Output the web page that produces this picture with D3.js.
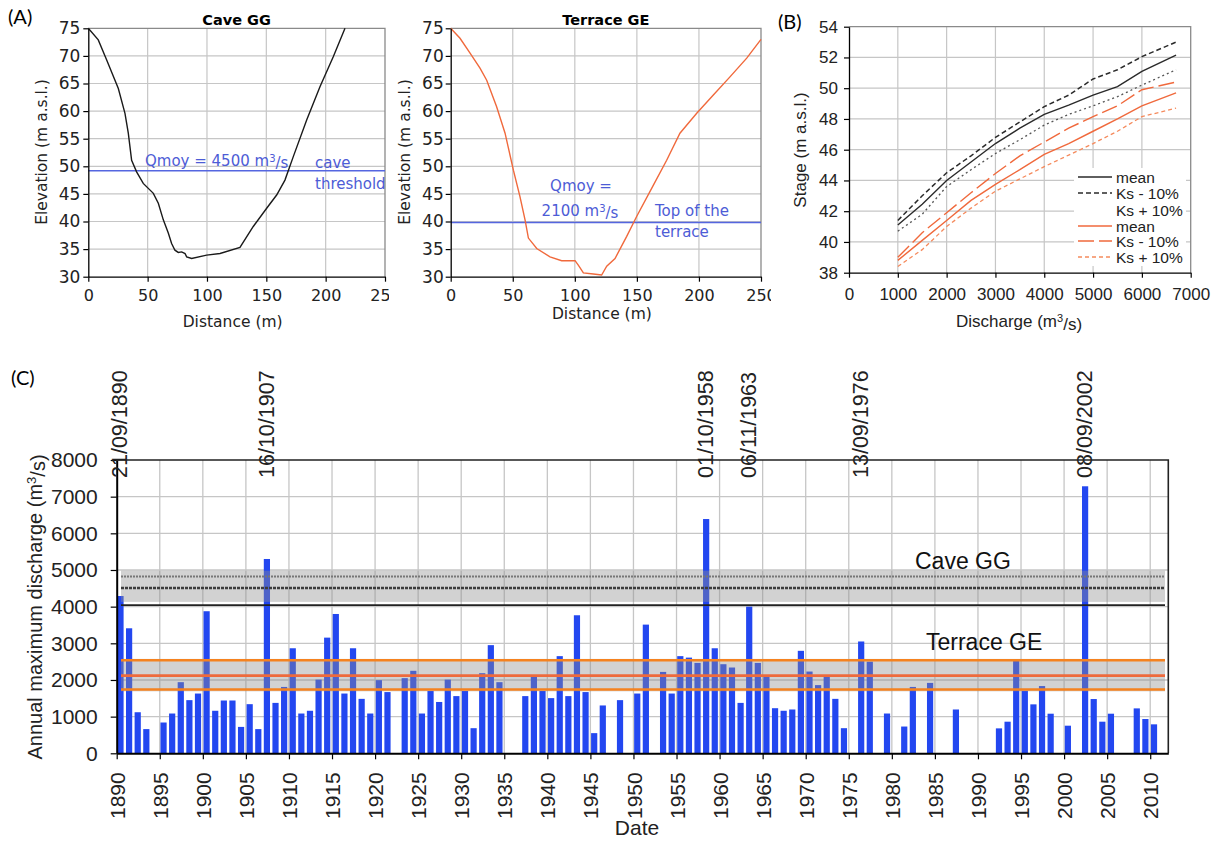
<!DOCTYPE html>
<html><head><meta charset="utf-8">
<script src="https://cdn.jsdelivr.net/npm/d3@7"></script>
<style>
body{margin:0;background:#fff;}
svg{display:block;}
</style></head><body>
<svg id="chart" width="1221" height="841"></svg>
<script>
// ---------- DATA ----------
// Panel A: cross-section profiles (distance m, elevation m a.s.l.)
const caveDist = [0, 8.4, 15.4, 25.3, 30.9, 33.7, 36.5, 40.7, 46.3, 54.8, 59, 63.2, 67.4, 70.2, 73, 75.8, 78.7, 81.5, 82.9, 87.1, 99.7, 111, 127.8, 139, 150.3, 158.7, 165.7, 172.8, 184, 195.2, 206.5, 216.3];
const caveElev = [75, 72.9, 69.3, 64.1, 59.6, 56, 51.1, 49, 46.9, 45.1, 43.3, 40.3, 37.9, 36, 34.8, 34.4, 34.5, 34.2, 33.6, 33.3, 33.9, 34.2, 35.3, 39.1, 42.4, 44.8, 47.5, 51.8, 58.4, 64.4, 69.9, 75];
const terrDist = [0, 7.5, 15.6, 23.6, 29, 37, 43.8, 50.5, 55.8, 59.9, 62.6, 69.3, 80, 89.4, 100.2, 102.8, 106.9, 114.9, 121.6, 125.7, 132.4, 141.8, 149.8, 163.3, 174, 184.7, 198.2, 211.6, 225, 238.5, 250];
const terrElev = [75, 73.2, 70.5, 67.8, 65.6, 60.8, 56, 49.3, 44.5, 40.3, 37, 35.1, 33.6, 32.9, 32.9, 32.1, 30.7, 30.5, 30.3, 31.9, 33.3, 37.3, 40.9, 46.6, 51.1, 56, 59.6, 62.9, 66.2, 69.6, 73];
const caveThreshold = 49.2;
const terraceThreshold = 39.8;
const profileXTicks = [0, 50, 100, 150, 200, 250];
const profileYTicks = [30, 35, 40, 45, 50, 55, 60, 65, 70, 75];

// Panel B: stage-discharge curves
const discharge = [1000, 1500, 2000, 2500, 3000, 3500, 4000, 4500, 5000, 5500, 6000, 6700];
const caveMean   = [41.1, 42.45, 44.0, 45.2, 46.4, 47.4, 48.3, 48.9, 49.55, 50.1, 51.1, 52.15];
const caveKsMinus = [41.4, 43.0, 44.5, 45.6, 46.8, 47.8, 48.8, 49.55, 50.6, 51.2, 52.05, 53.0];
const caveKsPlus  = [40.7, 41.8, 43.6, 44.7, 45.75, 46.65, 47.6, 48.3, 48.85, 49.45, 50.2, 51.2];
const terrMean    = [38.8, 40.1, 41.4, 42.7, 43.75, 44.7, 45.7, 46.4, 47.2, 48.0, 48.85, 49.7];
const terrKsMinus = [39.0, 40.6, 41.9, 43.2, 44.45, 45.6, 46.5, 47.4, 48.15, 48.85, 49.9, 50.4];
const terrKsPlus  = [38.4, 39.5, 41.0, 42.2, 43.3, 44.1, 44.9, 45.65, 46.4, 47.2, 48.15, 48.7];
const legendLabels = ["mean", "Ks - 10%", "Ks + 10%", "mean", "Ks - 10%", "Ks + 10%"];

// Panel C: annual maximum discharge (m3/s)
const years = [1890,1891,1892,1893,1895,1896,1897,1898,1899,1900,1901,1902,1903,1904,1905,1906,1907,1908,1909,1910,
  1911,1912,1913,1914,1915,1916,1917,1918,1919,1920,1921,1923,1924,1925,1926,1927,1928,1929,1930,1931,1932,1933,1934,
  1937,1938,1939,1940,1941,1942,1943,1944,1945,1946,1948,1950,1951,1953,1954,1955,1956,1957,1958,1959,1960,1961,1962,
  1963,1964,1965,1966,1967,1968,1969,1970,1971,1972,1973,1974,1976,1977,1979,1981,1982,1984,1987,1992,1993,1994,1995,
  1996,1997,1998,2000,2002,2003,2004,2005,2008,2009,2010];
const peaks = [4290,3410,1120,660,840,1085,1940,1450,1630,3875,1160,1440,1440,720,1340,660,5300,1375,1810,2865,
  1085,1160,2010,3155,3800,1630,2865,1485,1085,1995,1670,2050,2250,1085,1700,1400,2010,1560,1700,685,2185,2950,1940,
  1560,2105,1700,1505,2650,1560,3765,1670,550,1305,1450,1630,3510,2220,1630,2650,2610,2465,6390,2865,2430,2340,1375,
  4000,2465,2085,1230,1160,1195,2795,2230,1860,2120,1485,685,3050,2500,1085,730,1810,1920,1195,680,862,2520,1707,
  1335,1834,1080,753,7283,1480,862,1080,1225,935,790];
const eventYears = [1890, 1907, 1958, 1963, 1976, 2002];
const eventLabels = ["21/09/1890", "16/10/1907", "01/10/1958", "06/11/1963", "13/09/1976", "08/09/2002"];
const caveBand = [4130, 4980];
const caveLevels = [4820, 4510, 4040];
const terraceBand = [1690, 2575];
const terraceLevels = [2540, 2120, 1740];

// ---------- DRAW ----------
const svg = d3.select("#chart");
const defs = svg.append("defs");
function clip(id, x, y, w, h) {
  defs.append("clipPath").attr("id", id).append("rect")
    .attr("x", x).attr("y", y).attr("width", w).attr("height", h);
}
clip("clipA1", 0, 0, 389, 340);
clip("clipA2", 389, 0, 382, 340);
clip("clipB", 771, 0, 450, 340);

const GRID = "#c6c6c6";
const BLUE_T = "#4d5cd6";
const fmt = d3.format("d");

function styleAxis(g, font, size) {
  g.select(".domain").attr("stroke", "#000").attr("stroke-width", 1.3);
  g.selectAll(".tick line").attr("stroke", "#000").attr("stroke-width", 1.2);
  g.selectAll("text").attr("font-family", font).attr("font-size", size).attr("fill", "#222");
}

// ---- Panel A ----
function profilePanel(o) {
  const g = svg.append("g").attr("clip-path", `url(#${o.clip})`);
  const x = d3.scaleLinear().domain([0, 250]).range(o.xr);
  const y = d3.scaleLinear().domain([30, 75]).range([276.7, 28.3]);
  g.selectAll(null).data(profileXTicks.slice(1, -1)).enter().append("line")
    .attr("x1", d => x(d)).attr("x2", d => x(d)).attr("y1", y(75)).attr("y2", y(30))
    .attr("stroke", GRID).attr("stroke-width", 1.2);
  g.selectAll(null).data(profileYTicks.slice(1, -1)).enter().append("line")
    .attr("x1", x(0)).attr("x2", x(250)).attr("y1", d => y(d)).attr("y2", d => y(d))
    .attr("stroke", GRID).attr("stroke-width", 1.2);
  g.append("path").attr("d", `M${x(0)},${y(75)}H${x(250)}V${y(30)}`)
    .attr("fill", "none").attr("stroke", "#8a8a8a").attr("stroke-width", 1.3);
  g.append("line").attr("x1", x(0)).attr("x2", x(250))
    .attr("y1", y(o.threshold)).attr("y2", y(o.threshold))
    .attr("stroke", "#5566e0").attr("stroke-width", 1.5);
  g.append("path").datum(d3.zip(o.dist, o.elev))
    .attr("d", d3.line().x(d => x(d[0])).y(d => y(d[1])))
    .attr("fill", "none").attr("stroke", o.color).attr("stroke-width", 1.4);
  const ax = g.append("g").attr("transform", `translate(0,${y(30)})`)
    .call(d3.axisBottom(x).tickValues(profileXTicks).tickFormat(fmt).tickSize(5).tickSizeOuter(0).tickPadding(8));
  styleAxis(ax, "DejaVu Sans", 16);
  const ay = g.append("g").attr("transform", `translate(${x(0)},0)`)
    .call(d3.axisLeft(y).tickValues(profileYTicks).tickFormat(fmt).tickSize(5).tickSizeOuter(0).tickPadding(o.ypad));
  styleAxis(ay, "DejaVu Sans", 17);
  g.append("text").attr("x", (o.xr[0] + o.xr[1]) / 2).attr("y", 25).attr("text-anchor", "middle")
    .attr("font-family", "DejaVu Sans").attr("font-weight", "bold").attr("font-size", 14.5).text(o.title);
  g.append("text").attr("x", (o.xr[0] + o.xr[1]) / 2 - 4).attr("y", o.xtitleY).attr("text-anchor", "middle")
    .attr("font-family", "DejaVu Sans").attr("font-size", 15.5).attr("fill", "#222").text("Distance (m)");
  g.append("text").attr("transform", `translate(${o.ytitleX},152) rotate(-90)`).attr("text-anchor", "middle")
    .attr("font-family", "DejaVu Sans").attr("font-size", 15.5).attr("fill", "#222").text("Elevation (m a.s.l.)");
  return g;
}

const gA1 = profilePanel({clip: "clipA1", xr: [88.3, 385], dist: caveDist, elev: caveElev, color: "#1a1a1a",
  threshold: caveThreshold, title: "Cave GG", xtitleY: 327, ytitleX: 47, ypad: 3});
const gA2 = profilePanel({clip: "clipA2", xr: [450.7, 761], dist: terrDist, elev: terrElev, color: "#f0693c",
  threshold: terraceThreshold, title: "Terrace GE", xtitleY: 319, ytitleX: 410, ypad: 2});

function blueText(g, x, y, anchor, parts) {
  const t = g.append("text").attr("x", x).attr("y", y).attr("text-anchor", anchor)
    .attr("font-family", "DejaVu Sans").attr("font-size", 15).attr("fill", BLUE_T);
  parts.forEach(p => {
    if (p.sup) t.append("tspan").attr("dy", "-0.45em").attr("font-size", 10).text(p.sup);
    else t.append("tspan").attr("dy", p.after ? "0.45em" : 0).text(p.t);
  });
}
blueText(gA1, 145, 166, "start", [{t: "Qmoy = 4500 m"}, {sup: "3"}, {t: "/s", after: true}]);
blueText(gA1, 315, 168, "start", [{t: "cave"}]);
blueText(gA1, 315, 189, "start", [{t: "threshold"}]);
blueText(gA2, 581, 191, "middle", [{t: "Qmoy ="}]);
blueText(gA2, 580, 216, "middle", [{t: "2100 m"}, {sup: "3"}, {t: "/s", after: true}]);
blueText(gA2, 655, 216, "start", [{t: "Top of the"}]);
blueText(gA2, 655, 237, "start", [{t: "terrace"}]);

// ---- Panel B ----
{
  const g = svg.append("g").attr("clip-path", "url(#clipB)");
  const x = d3.scaleLinear().domain([0, 7000]).range([849, 1190.7]);
  const y = d3.scaleLinear().domain([38, 54]).range([272.7, 26.7]);
  g.selectAll(null).data(d3.range(1000, 7000, 1000)).enter().append("line")
    .attr("x1", d => x(d)).attr("x2", d => x(d)).attr("y1", y(54)).attr("y2", y(38))
    .attr("stroke", GRID).attr("stroke-width", 1.2);
  g.selectAll(null).data(d3.range(40, 54, 2)).enter().append("line")
    .attr("x1", x(0)).attr("x2", x(7000)).attr("y1", d => y(d)).attr("y2", d => y(d))
    .attr("stroke", GRID).attr("stroke-width", 1.2);
  g.append("path").attr("d", `M${x(0)},${y(54)}H${x(7000)}V${y(38)}`)
    .attr("fill", "none").attr("stroke", "#8a8a8a").attr("stroke-width", 1.3);
  const series = [
    {v: caveMean, c: "#2a2a2a", dash: null, w: 1.4},
    {v: caveKsMinus, c: "#2a2a2a", dash: "5,3", w: 1.5},
    {v: caveKsPlus, c: "#555", dash: "2,3", w: 1.3},
    {v: terrMean, c: "#f0693c", dash: null, w: 1.4},
    {v: terrKsMinus, c: "#f0693c", dash: "16,5", w: 1.4},
    {v: terrKsPlus, c: "#f58a5c", dash: "4,3", w: 1.3}
  ];
  const line = d3.line().x(d => x(d[0])).y(d => y(d[1]));
  series.forEach(s => {
    g.append("path").datum(d3.zip(discharge, s.v)).attr("d", line)
      .attr("fill", "none").attr("stroke", s.c).attr("stroke-width", s.w)
      .attr("stroke-dasharray", s.dash);
  });
  // legend
  g.append("rect").attr("x", 1074).attr("y", 168).attr("width", 112).attr("height", 98).attr("fill", "#fff");
  const rowsY = [177, 193, 210, 226, 241, 257];
  series.forEach((s, i) => {
    if (i !== 2) g.append("line").attr("x1", 1078).attr("x2", 1112).attr("y1", rowsY[i]).attr("y2", rowsY[i])
      .attr("stroke", s.c).attr("stroke-width", s.w).attr("stroke-dasharray", s.dash);
    g.append("text").attr("x", 1116).attr("y", rowsY[i]).attr("dy", "0.36em")
      .attr("font-family", "Liberation Sans").attr("font-size", 15.5).attr("fill", "#222").text(legendLabels[i]);
  });
  const ax = g.append("g").attr("transform", `translate(0,${y(38)})`)
    .call(d3.axisBottom(x).tickValues(d3.range(0, 7001, 1000)).tickFormat(fmt).tickSize(5).tickSizeOuter(0).tickPadding(10));
  styleAxis(ax, "Liberation Sans", 17);
  const ay = g.append("g").attr("transform", `translate(${x(0)},0)`)
    .call(d3.axisLeft(y).tickValues(d3.range(38, 55, 2)).tickFormat(fmt).tickSize(5).tickSizeOuter(0).tickPadding(6));
  styleAxis(ay, "Liberation Sans", 17);
  const xt = g.append("text").attr("x", 1019).attr("y", 327).attr("text-anchor", "middle")
    .attr("font-family", "Liberation Sans").attr("font-size", 17).attr("fill", "#222");
  xt.append("tspan").text("Discharge (m");
  xt.append("tspan").attr("dy", "-0.45em").attr("font-size", 11).text("3");
  xt.append("tspan").attr("dy", "0.45em").text("/s)");
  g.append("text").attr("transform", "translate(806,150) rotate(-90)").attr("text-anchor", "middle")
    .attr("font-family", "Liberation Sans").attr("font-size", 17).attr("fill", "#222").text("Stage (m a.s.l.)");
}

// ---- Panel C ----
{
  const g = svg.append("g");
  const x = d3.scaleLinear().domain([1890, 2012.1]).range([116.7, 1168.3]);
  const y = d3.scaleLinear().domain([0, 8000]).range([753.3, 460]);
  const x0 = x(1890), x1 = x(2012.1);
  g.selectAll(null).data(d3.range(1895, 2011, 5)).enter().append("line")
    .attr("x1", d => x(d)).attr("x2", d => x(d)).attr("y1", y(8000)).attr("y2", y(0))
    .attr("stroke", GRID).attr("stroke-width", 1.3);
  g.selectAll(null).data(d3.range(1000, 8000, 1000)).enter().append("line")
    .attr("x1", x0).attr("x2", x1).attr("y1", d => y(d)).attr("y2", d => y(d))
    .attr("stroke", GRID).attr("stroke-width", 1.3);
  const bw = x(1890.72) - x(1890);
  g.selectAll(null).data(d3.zip(years, peaks)).enter().append("rect")
    .attr("x", d => x(d[0] + 0.08)).attr("width", bw)
    .attr("y", d => y(d[1])).attr("height", d => y(0) - y(d[1]))
    .attr("fill", "#2347f0");
  // bands
  const bx0 = 121, bx1 = 1165;
  g.append("rect").attr("x", bx0).attr("width", bx1 - bx0)
    .attr("y", y(caveBand[1])).attr("height", y(caveBand[0]) - y(caveBand[1]))
    .attr("fill", "#8e8e8e").attr("opacity", 0.4);
  g.append("rect").attr("x", bx0).attr("width", bx1 - bx0)
    .attr("y", y(terraceBand[1])).attr("height", y(terraceBand[0]) - y(terraceBand[1]))
    .attr("fill", "#8e8e8e").attr("opacity", 0.4);
  const caveStyles = [{c: "#777", w: 2, d: "2,1"}, {c: "#3c3c3c", w: 2.5, d: "3,1"}, {c: "#222", w: 1.8, d: null}];
  caveLevels.forEach((v, i) => g.append("line").attr("x1", bx0).attr("x2", bx1).attr("y1", y(v)).attr("y2", y(v))
    .attr("stroke", caveStyles[i].c).attr("stroke-width", caveStyles[i].w).attr("stroke-dasharray", caveStyles[i].d));
  const terrColors = ["#f5821f", "#ee6a3c", "#f5821f"];
  terraceLevels.forEach((v, i) => g.append("line").attr("x1", bx0).attr("x2", bx1).attr("y1", y(v)).attr("y2", y(v))
    .attr("stroke", terrColors[i]).attr("stroke-width", 2.6));
  // frame
  g.append("path").attr("d", `M${x0},${y(8000)}H${x1}V${y(0)}`).attr("fill", "none")
    .attr("stroke", "#222").attr("stroke-width", 1.6);
  // axes
  const ay = g.append("g").attr("transform", `translate(${x0},0)`)
    .call(d3.axisLeft(y).tickValues(d3.range(0, 8001, 1000)).tickFormat(fmt).tickSize(6).tickSizeOuter(0).tickPadding(13));
  styleAxis(ay, "Liberation Sans", 21);
  ay.select(".domain").attr("stroke-width", 2);
  const ax = g.append("g").attr("transform", `translate(0,${y(0)})`)
    .call(d3.axisBottom(x).tickValues(d3.range(1890, 2011, 5)).tickFormat(fmt).tickSize(6).tickSizeOuter(0));
  styleAxis(ax, "Liberation Sans", 21);
  ax.select(".domain").attr("stroke-width", 2);
  ax.selectAll("text").attr("transform", "rotate(-90)").attr("text-anchor", "end")
    .attr("x", -19).attr("y", 0).attr("dy", "0.36em");
  // event date labels
  g.selectAll(null).data(d3.zip(eventYears, eventLabels)).enter().append("text")
    .attr("transform", d => `translate(${x(d[0] + 0.45) - 1},478) rotate(-90)`)
    .attr("dy", "0.36em").attr("font-family", "Liberation Sans").attr("font-size", 21.5)
    .attr("fill", "#222").text(d => d[1]);
  // band labels
  g.append("text").attr("x", 915).attr("y", 569).attr("font-family", "Liberation Sans").attr("font-size", 23)
    .attr("fill", "#111").text("Cave GG");
  g.append("text").attr("x", 926).attr("y", 650).attr("font-family", "Liberation Sans").attr("font-size", 23)
    .attr("fill", "#111").text("Terrace GE");
  // titles
  g.append("text").attr("x", 637).attr("y", 835).attr("text-anchor", "middle")
    .attr("font-family", "Liberation Sans").attr("font-size", 21).attr("fill", "#222").text("Date");
  const yt = g.append("text").attr("transform", "translate(42,607) rotate(-90)").attr("text-anchor", "middle")
    .attr("font-family", "Liberation Sans").attr("font-size", 20).attr("fill", "#222");
  yt.append("tspan").text("Annual maximum discharge (m");
  yt.append("tspan").attr("dy", "-0.45em").attr("font-size", 13).text("3");
  yt.append("tspan").attr("dy", "0.45em").text("/s)");
}

// panel letters
[["(A)", 8, 24], ["(B)", 778, 29], ["(C)", 11, 385]].forEach(d => {
  svg.append("text").attr("x", d[1]).attr("y", d[2]).attr("font-family", "Lato").attr("font-size", 20)
    .attr("fill", "#000").text(d[0]);
});
</script>
</body></html>
